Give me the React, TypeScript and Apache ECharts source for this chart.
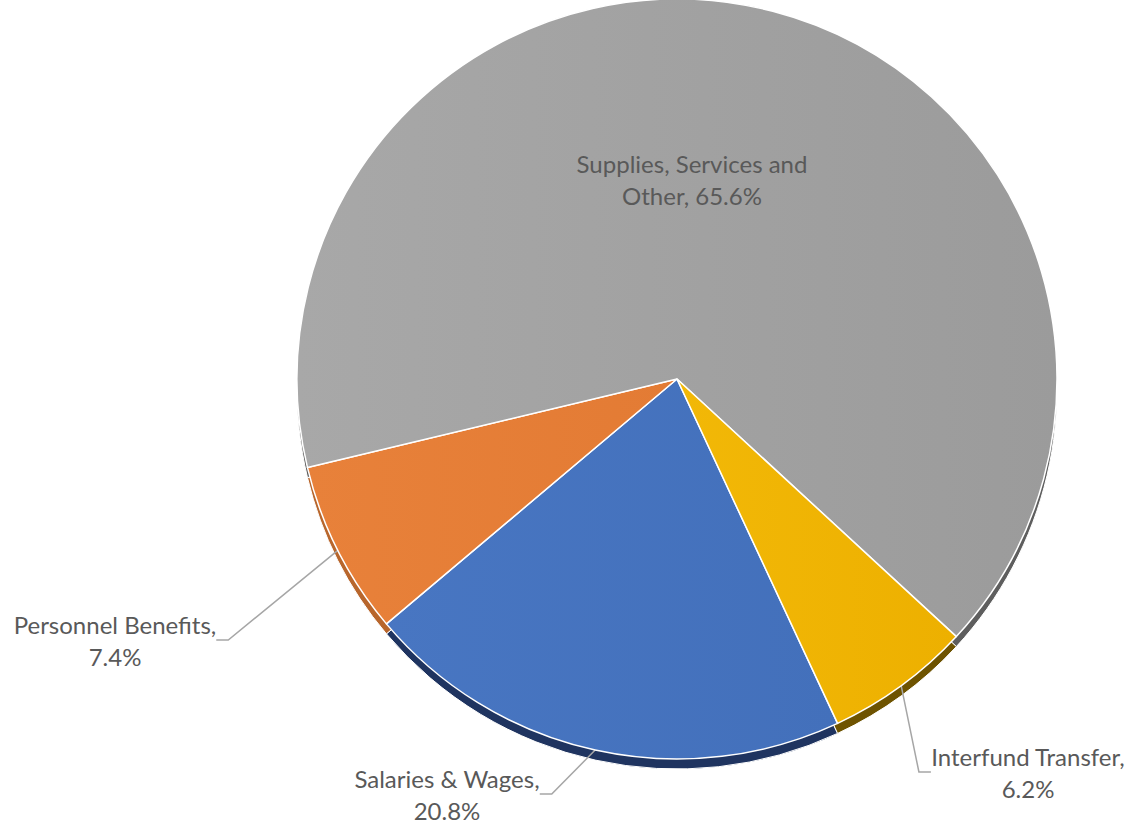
import React, { useEffect, useRef } from "react";
import * as echarts from "echarts";

const categories = [
  "Salaries & Wages",
  "Personnel Benefits",
  "Supplies, Services and Other",
  "Interfund Transfer",
];
const shares = [20.8, 7.4, 65.6, 6.2];

const topColors = [
  ["#4876C2", "#4370BB"],
  ["#E8813A", "#E37B34"],
  ["#A8A8A8", "#9B9B9B"],
  ["#F2B807", "#EDB000"],
];
const sideColors = ["#1F3460", "#B8662C", "#5E5E5E", "#6E5300"];

// label block centres (x, y) in px
const labelCentres = [
  [447, 794],
  [115, 640],
  [692, 179],
  [1028, 772],
];

const CX = 677;
const CY = 379;
const R = 380;
const DEPTH = 10;

function labelText(p: any) {
  const name: string = p.name;
  const pct = `${p.percent}%`;
  if (name.length > 22) {
    const idx = name.lastIndexOf(" ");
    return `${name.slice(0, idx)}\n${name.slice(idx + 1)}, ${pct}`;
  }
  return `${name},\n${pct}`;
}

export default function App() {
  const ref = useRef<HTMLDivElement>(null);
  useEffect(() => {
    if (!ref.current) return;
    const chart = echarts.init(ref.current, undefined, { renderer: "svg" });
    const topData = categories.map((c, i) => ({
      name: c,
      value: shares[i],
      itemStyle: {
        color: {
          type: "linear",
          x: 0,
          y: 0,
          x2: 1,
          y2: 0,
          colorStops: [
            { offset: 0, color: topColors[i][0] },
            { offset: 1, color: topColors[i][1] },
          ],
        },
      },
      label: i === 2 ? { position: "inside" } : { position: "outside" },
      labelLine: { show: i !== 2 },
    }));
    const sideData = categories.map((c, i) => ({
      name: c,
      value: shares[i],
      itemStyle: { color: sideColors[i] },
    }));
    chart.setOption({
      animation: false,
      backgroundColor: "#ffffff",
      series: [
        {
          type: "pie",
          center: [CX, CY + DEPTH],
          radius: R,
          startAngle: 295,
          clockwise: true,
          silent: true,
          z: 1,
          label: { show: false },
          labelLine: { show: false },
          itemStyle: { borderColor: "#ffffff", borderWidth: 1 },
          data: sideData,
        },
        {
          type: "pie",
          center: [CX, CY],
          radius: R,
          startAngle: 295,
          clockwise: true,
          percentPrecision: 1,
          z: 2,
          itemStyle: { borderColor: "#ffffff", borderWidth: 1.5 },
          label: {
            show: true,
            formatter: labelText,
            fontFamily: "Lato",
            fontSize: 24,
            lineHeight: 32,
            color: "#595959",
            align: "center",
          },
          labelLine: {
            show: true,
            length: 20,
            length2: 12,
            lineStyle: { color: "#A6A6A6", width: 1.5 },
          },
          labelLayout: (params: any) => {
            const c = labelCentres[params.dataIndex];
            return { x: c[0], y: c[1], align: "center", verticalAlign: "middle" };
          },
          data: topData,
        },
      ],
    });
    return () => chart.dispose();
  }, []);
  return (
    <div
      ref={ref}
      style={{ position: "fixed", left: 0, top: 0, width: 1138, height: 826 }}
    />
  );
}
